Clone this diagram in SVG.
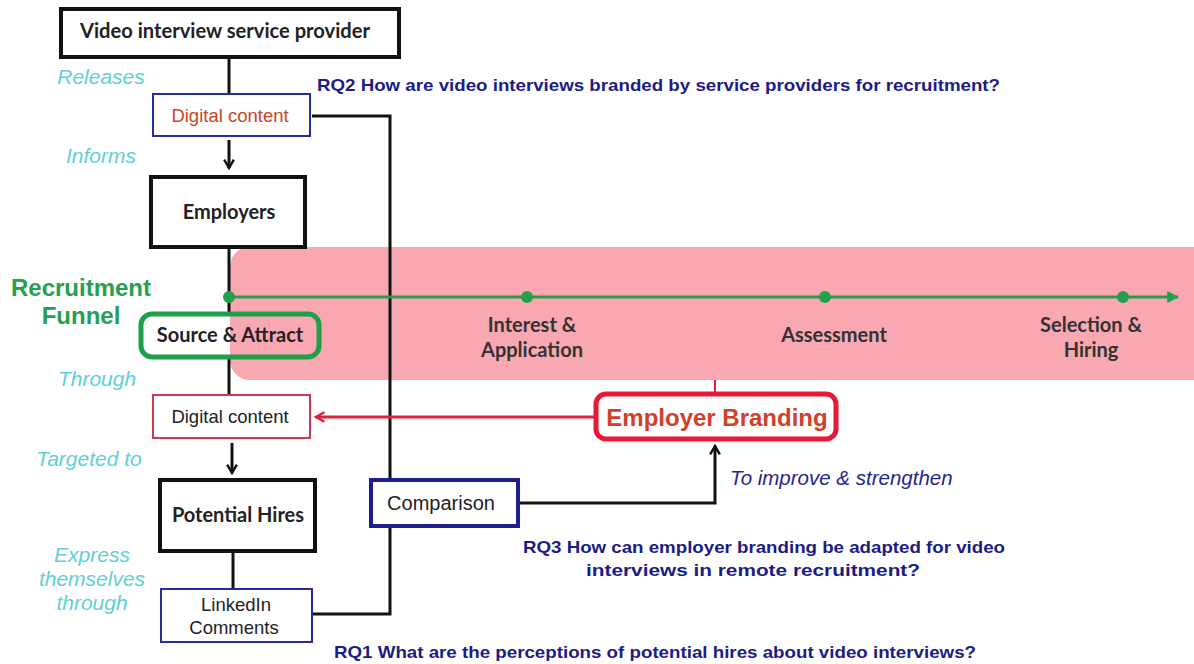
<svg xmlns="http://www.w3.org/2000/svg" width="1194" height="664" viewBox="0 0 1194 664">
<defs>
<style>
.box{fill:#fff;stroke:#111;stroke-width:4}
.thin{fill:#fff;stroke-width:2}
.node{font-family:"Lato","Open Sans",sans-serif;font-weight:700;font-size:20px;fill:#222;text-anchor:middle}
.dc{font-family:"Liberation Sans",Arial,sans-serif;font-size:18.5px;text-anchor:middle}
.verb{font-family:"Liberation Sans",Arial,sans-serif;font-style:italic;font-size:21px;fill:#5fd0d6;text-anchor:middle}
.rq{font-family:"Liberation Sans",Arial,sans-serif;font-weight:700;font-size:17px;fill:#1c1c86}
.stage{font-family:"Lato","Open Sans",sans-serif;font-weight:700;font-size:20px;fill:#333;text-anchor:middle}
.conn{fill:none;stroke:#111;stroke-width:3}
</style>
<marker id="ak" viewBox="0 0 10 10" refX="8" refY="5" markerWidth="4" markerHeight="4" orient="auto"><path d="M1,1 L8,5 L1,9" fill="none" stroke="#111" stroke-width="2"/></marker>
<marker id="ar" viewBox="0 0 10 10" refX="8" refY="5" markerWidth="4" markerHeight="4" orient="auto"><path d="M1,1 L8,5 L1,9" fill="none" stroke="#e0203a" stroke-width="2"/></marker>
<marker id="ag" viewBox="0 0 10 10" refX="9" refY="5" markerWidth="4" markerHeight="4" orient="auto"><path d="M0,0 L10,5 L0,10 z" fill="#22a04c"/></marker>
</defs>
<rect width="1194" height="664" fill="#fff"/>
<g id="funnel-band"><rect x="230" y="247" width="990" height="133" rx="20" fill="#f9a7b1"/></g>
<g id="connectors">
<line class="conn" x1="229" y1="57" x2="229" y2="94"/>
<line class="conn" x1="229" y1="140" x2="229" y2="168" marker-end="url(#ak)"/>
<line class="conn" x1="229" y1="247" x2="229" y2="313"/>
<line class="conn" x1="229" y1="357" x2="229" y2="395"/>
<line class="conn" x1="232" y1="443" x2="232" y2="473" marker-end="url(#ak)"/>
<line class="conn" x1="233" y1="552" x2="233" y2="589" stroke-width="2"/>
<polyline class="conn" points="312,116 390,116 390,614 312,614"/>
<polyline class="conn" points="519,503 715,503 715,446" marker-end="url(#ak)"/>
<line x1="715" y1="380" x2="715" y2="393" stroke="#e0203a" stroke-width="2"/>
<line x1="595" y1="417" x2="316" y2="417" stroke="#e0203a" stroke-width="3" marker-end="url(#ar)"/>
<line x1="229" y1="297" x2="1178" y2="297" stroke="#2a9a4c" stroke-width="3" marker-end="url(#ag)"/>
<g fill="#22a04c"><circle cx="229" cy="297" r="6"/><circle cx="527" cy="297" r="6"/><circle cx="825" cy="297" r="6"/><circle cx="1123" cy="297" r="6"/></g>
</g>
<g id="provider"><rect class="box" x="61" y="9" width="338" height="48"/><text class="node" x="225" y="38" textLength="290" lengthAdjust="spacingAndGlyphs">Video interview service provider</text></g>
<g id="digital1"><rect class="thin" x="153" y="94" width="157" height="42" stroke="#2b2ba0"/><text class="dc" x="230" y="122" fill="#cc4426">Digital content</text></g>
<g id="employers"><rect class="box" x="151" y="177" width="154" height="70"/><text class="node" x="229" y="219">Employers</text></g>
<g id="source"><rect x="141" y="314" width="178" height="43" rx="11" fill="none" stroke="#1f9e4c" stroke-width="5"/><text class="node" x="230" y="342">Source &amp; Attract</text></g>
<g id="stages">
<text class="stage" x="532" y="332">Interest &amp;</text><text class="stage" x="532" y="357">Application</text>
<text class="stage" x="834" y="342">Assessment</text>
<text class="stage" x="1091" y="332">Selection &amp;</text><text class="stage" x="1091" y="357">Hiring</text>
</g>
<g id="recruitment-label"><text x="81" y="296" font-family="Liberation Sans,Arial,sans-serif" font-weight="700" font-size="24" fill="#25a052" text-anchor="middle">Recruitment</text><text x="81" y="324" font-family="Liberation Sans,Arial,sans-serif" font-weight="700" font-size="24" fill="#25a052" text-anchor="middle">Funnel</text></g>
<g id="digital2"><rect class="thin" x="153" y="395" width="157" height="43" stroke="#d23652"/><text class="dc" x="230" y="423" fill="#222">Digital content</text></g>
<g id="branding"><rect x="596" y="394" width="240" height="45" rx="10" fill="#fff" stroke="#e8183a" stroke-width="5"/><text x="717" y="426" font-family="Liberation Sans,Arial,sans-serif" font-weight="700" font-size="24" fill="#d2402a" text-anchor="middle">Employer Branding</text></g>
<g id="comparison"><rect x="371" y="480" width="147" height="46" fill="#fff" stroke="#1d1d90" stroke-width="4"/><text x="441" y="510" font-family="Liberation Sans,Arial,sans-serif" font-size="20" fill="#222" text-anchor="middle">Comparison</text></g>
<g id="hires"><rect class="box" x="160" y="480" width="155" height="71"/><text class="node" x="238" y="522">Potential Hires</text></g>
<g id="linkedin"><rect class="thin" x="161" y="589" width="151" height="53" stroke="#2b2ba0"/><text class="dc" x="236" y="611" fill="#222">LinkedIn</text><text class="dc" x="234" y="634" fill="#222">Comments</text></g>
<g id="verbs">
<text class="verb" x="101" y="84">Releases</text>
<text class="verb" x="101" y="163">Informs</text>
<text class="verb" x="97" y="386">Through</text>
<text class="verb" x="89" y="466">Targeted to</text>
<text class="verb" x="92" y="562">Express</text>
<text class="verb" x="92" y="586">themselves</text>
<text class="verb" x="92" y="610">through</text>
<text x="730" y="485" font-family="Liberation Sans,Arial,sans-serif" font-style="italic" font-size="20.5" fill="#26268a">To improve &amp; strengthen</text>
</g>
<g id="questions">
<text class="rq" x="317" y="91" textLength="683" lengthAdjust="spacingAndGlyphs">RQ2 How are video interviews branded by service providers for recruitment?</text>
<text class="rq" x="523" y="553" textLength="482" lengthAdjust="spacingAndGlyphs">RQ3 How can employer branding be adapted for video</text>
<text class="rq" x="586" y="576" textLength="334" lengthAdjust="spacingAndGlyphs">interviews in remote recruitment?</text>
<text class="rq" x="334" y="658" textLength="642" lengthAdjust="spacingAndGlyphs">RQ1 What are the perceptions of potential hires about video interviews?</text>
</g>
</svg>
